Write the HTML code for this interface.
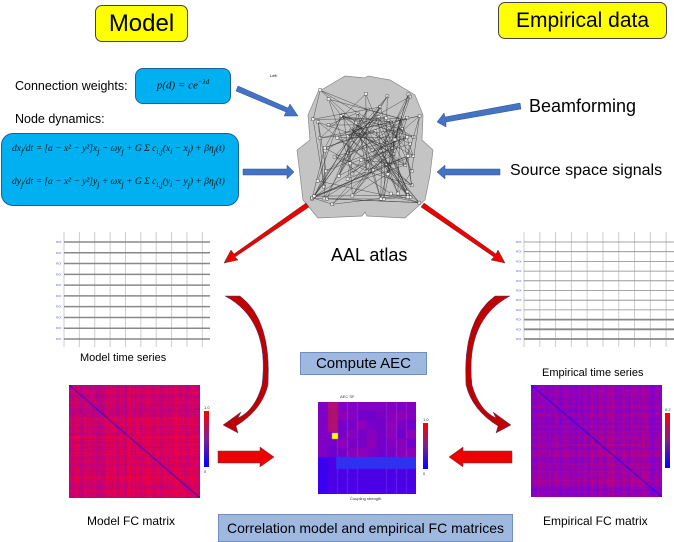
<!DOCTYPE html>
<html><head><meta charset="utf-8"><style>
body{margin:0;width:674px;height:542px;background:#fff;overflow:hidden;position:relative;font-family:"Liberation Sans",sans-serif}
.a{position:absolute;white-space:nowrap}
.y{background:#ffff00;border:1.5px solid #444;border-radius:7px;text-align:center;color:#000}
.lb{background:#9fb8e0;border:1px solid #6f8fc0;text-align:center;color:#000}
.bb{background:#00b0f0;border:1.5px solid #1f5fa0;border-radius:12px;font-family:"Liberation Serif",serif;font-style:italic;color:#111}
canvas{position:absolute}
</style></head><body>
<div class="a y" style="left:95px;top:5px;width:91px;height:35px;font-size:24px;line-height:35px">Model</div>
<div class="a y" style="left:498px;top:2px;width:167px;height:35px;font-size:21px;line-height:35px">Empirical data</div>
<div class="a" style="left:15px;top:79px;font-size:12.5px">Connection weights:</div>
<div class="a bb" style="left:135px;top:68px;width:94px;height:34px;font-size:11px;text-align:center;line-height:26px;border-radius:8px">p(d) = ce<sup style="font-size:7px">−λd</sup></div>
<div class="a" style="left:15px;top:112px;font-size:12.5px">Node dynamics:</div>
<div class="a bb" style="left:1px;top:133px;width:238px;height:73px;font-size:9.5px;line-height:30px;padding-left:10px;box-sizing:border-box">
<div>dx<sub>j</sub>/dt = [a − x² − y²]x<sub>j</sub> − ωy<sub>j</sub> + G Σ c<sub>i,j</sub>(x<sub>i</sub> − x<sub>j</sub>) + βη<sub>j</sub>(t)</div>
<div>dy<sub>j</sub>/dt = [a − x² − y²]y<sub>j</sub> + ωx<sub>j</sub> + G Σ c<sub>i,j</sub>(y<sub>i</sub> − y<sub>j</sub>) + βη<sub>j</sub>(t)</div></div>
<div class="a" style="left:270px;top:73px;font-size:4px">Left</div>
<div class="a" style="left:529px;top:96px;font-size:18px">Beamforming</div>
<div class="a" style="left:510px;top:162px;font-size:16px">Source space signals</div>
<div class="a" style="left:331px;top:245px;font-size:18px">AAL atlas</div>
<div class="a" style="left:80px;top:352px;font-size:11px">Model time series</div>
<div class="a" style="left:542px;top:367px;font-size:11px">Empirical time series</div>
<div class="a lb" style="left:300px;top:352px;width:125px;height:21px;font-size:15px;line-height:21px">Compute AEC</div>
<div class="a lb" style="left:218px;top:514px;width:293px;height:26px;font-size:14px;line-height:26px">Correlation model and empirical FC matrices</div>
<div class="a" style="left:87px;top:514px;font-size:12px">Model FC matrix</div>
<div class="a" style="left:543px;top:514px;font-size:12px">Empirical FC matrix</div>
<canvas id="m1" width="131" height="113" style="left:69px;top:385px"></canvas>
<canvas id="m2" width="131" height="112" style="left:531px;top:385px"></canvas>
<canvas id="m3" width="98" height="92" style="left:318px;top:402px"></canvas>
<svg class="a" style="left:0;top:0" width="674" height="542">
<defs><linearGradient id="cb" x1="0" y1="0" x2="0" y2="1"><stop offset="0" stop-color="#f00"/><stop offset=".5" stop-color="#80208f"/><stop offset="1" stop-color="#00f"/></linearGradient></defs>
<rect x="204" y="411" width="5" height="56" fill="url(#cb)"/><rect x="423" y="423" width="5" height="46" fill="url(#cb)"/><rect x="665" y="413" width="5" height="55" fill="url(#cb)"/>
<g font-size="4" fill="#333"><text x="204" y="409">1.0</text><text x="204" y="473">0</text><text x="423" y="421">1.0</text><text x="423" y="475">0</text><text x="665" y="411">0.2</text><text x="340" y="398">AEC SF</text><text x="350" y="500">Coupling strength</text></g>
<path d="M345 76 L365 78 L368 76 L390 80 L415 95 L423 115 L422 140 L433 150 L430 175 L425 200 L405 218 L367 216 L365 212 L362 216 L318 218 L303 200 L300 175 L297 150 L310 140 L308 115 L318 92 Z" fill="#c4c4c4" stroke="#888" stroke-width="0.7"/>
<g id="net" stroke="#333" stroke-width="0.4" fill="none"></g>
<g fill="#4472c4" stroke="#2f528f" stroke-width="0.5">
<polygon points="238,86 288,108 290,104 298,116 284,116 286,112 236,91"/>
<polygon points="243,169 287,169 287,165 294,172 287,179 287,175 243,175"/>
<polygon points="520,103 445,117 444,113 437,122 446,127 446,122 521,109"/>
<polygon points="500,169 445,169 445,165 437,172 445,179 445,175 500,175"/>
</g>
<g fill="#e00" stroke="#444" stroke-width="0.5">
<polygon points="306,203 234,254 231,250 224,263 238,260 235,257 309,207"/>
<polygon points="421,207 494,257 491,260 505,263 498,250 496,254 424,203"/>
<polygon points="218,451 260,451 260,447 274,457 260,467 260,463 218,463"/>
<polygon points="512,451 463,451 463,447 449,457 463,467 463,463 512,463"/>
<path d="M225 296 Q270 320 262 385 Q255 410 238 418 L241 412 L223 425 L238 433 L236 426 Q262 410 268 385 Q272 320 240 296 Z" fill="#c00000" stroke="#2f528f"/>
<path d="M510 296 Q465 320 472 385 Q479 410 496 418 L493 412 L511 425 L496 433 L498 426 Q472 410 466 385 Q462 320 495 296 Z" fill="#c00000" stroke="#2f528f"/>
</g>
<g id="ts"></g>
</svg>
<script>
function rnd(s){return function(){s=(s*16807)%2147483647;return s/2147483647}}
var r=rnd(7);
var net=document.getElementById('net'),pts=[];
for(var i=0;i<80;i++){var x=312+r()*108,y=90+r()*118;pts.push([x,y]);}
var h='';
for(i=0;i<80;i++){for(var k=0;k<2;k++){var j=Math.floor(r()*80);h+='<line x1="'+pts[i][0]+'" y1="'+pts[i][1]+'" x2="'+pts[j][0]+'" y2="'+pts[j][1]+'"/>';}h+='<rect x="'+(pts[i][0]-1.5)+'" y="'+(pts[i][1]-1.5)+'" width="3" height="3" fill="#eee"/>';}
net.innerHTML=h;
var ts='';
function grid(x0,x1,y0,y1,n,noise){for(var c=0;c<10;c++){var xx=x0+8+c*(x1-x0-8)/9.5;ts+='<line x1="'+xx+'" y1="'+y0+'" x2="'+xx+'" y2="'+y1+'" stroke="#ccc" stroke-width="1"/>';}
for(var q=0;q<n;q++){var yy=y0+10+q*(y1-y0-18)/(n-1);ts+='<text x="'+(x0)+'" y="'+(yy+1)+'" font-size="3" fill="#55f">ROI</text><line x1="'+(x0+8)+'" y1="'+yy+'" x2="'+x1+'" y2="'+yy+'" stroke="#888" stroke-width="'+(noise?(q>7?1.8:0.8):1.5)+'"/>';}}
grid(56,210,232,347,10,0);grid(516,674,232,347,11,1);
document.getElementById('ts').innerHTML=ts;
function mat(id,e){var c=document.getElementById(id).getContext('2d'),w=c.canvas.width,H=c.canvas.height;
var N=78,rr=rnd(e?11:3);var bl=[];for(var i=0;i<N;i++)bl.push(rr());
for(i=0;i<N;i++)for(var j=0;j<N;j++){var v=(e?0.3:0.72)+0.3*(bl[i]+bl[j]-1)+0.2*(rr()-0.5);v=Math.max(0,Math.min(1,v));
c.fillStyle='rgb('+Math.round(110+140*v)+',0,'+Math.round(230-180*v)+')';c.fillRect(i*w/N,j*H/N,w/N+1,H/N+1);}
c.strokeStyle='#00f';c.lineWidth=1;c.beginPath();c.moveTo(0,0);c.lineTo(w,H);c.stroke();}
mat('m1',0);mat('m2',1);
var c=document.getElementById('m3').getContext('2d');
for(var i=0;i<10;i++)for(var j=0;j<10;j++){var v=j<6?0.45+0.1*Math.sin(i*j):0.1;if(i<1&&j>=6)v=0;c.fillStyle='rgb('+Math.round(60+150*v)+',0,'+Math.round(240-100*v)+')';c.fillRect(i*9.8,j*9.2,10,10);}
c.fillStyle='#b01070';c.fillRect(10,0,10,30);c.fillStyle='#ff0';c.fillRect(14,31,6,6);
c.fillStyle='#3030f0';c.fillRect(18,55,80,12);
</script>
</body></html>
